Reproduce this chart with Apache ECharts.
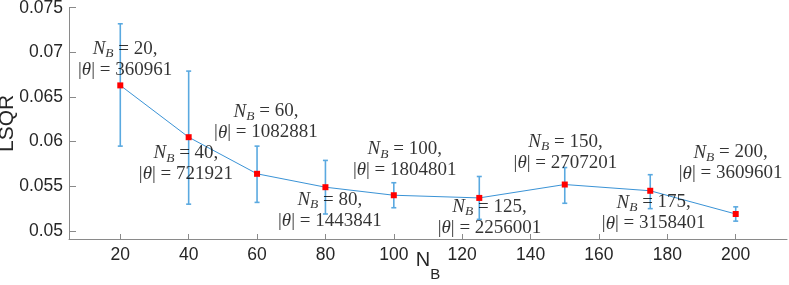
<!DOCTYPE html>
<html>
<head>
<meta charset="utf-8">
<script src="https://cdn.jsdelivr.net/npm/echarts@6/dist/echarts.min.js"></script>
<style>html,body{margin:0;padding:0;background:#fff}#c{width:789px;height:285px}</style>
</head>
<body>
<div id="c"></div>
<script>
// ---- data ----
var nb      = [20, 40, 60, 80, 100, 125, 150, 175, 200];
var lsqr    = [0.0663, 0.0605, 0.0564, 0.0549, 0.0540, 0.0537, 0.0552, 0.0545, 0.0519];
var errLow  = [0.0595, 0.0530, 0.0532, 0.0519, 0.0526, 0.0513, 0.0531, 0.0525, 0.0511];
var errHigh = [0.0732, 0.0679, 0.0595, 0.0579, 0.0554, 0.0561, 0.0571, 0.0563, 0.0527];
var thetaSize = ['360961', '721921', '1082881', '1443841', '1804801', '2256001', '2707201', '3158401', '3609601'];
// annotation anchors (data coordinates, like MATLAB text())
var annotX  = [21.4, 39.2, 62.6, 81.3, 103.2, 128.0, 150.2, 176.0, 198.5];
var annotY  = [0.0692, 0.0575, 0.0622, 0.0523, 0.05795, 0.05156, 0.05884, 0.05201, 0.05761];
var xTicks  = [20, 40, 60, 80, 100, 120, 140, 160, 180, 200];
var yTicks  = [0.05, 0.055, 0.06, 0.065, 0.07, 0.075];
var yTickLabels = ['0.05', '0.055', '0.06', '0.065', '0.07', '0.075'];

var chart = echarts.init(document.getElementById('c'), null, {renderer: 'canvas'});
var axisGray = '#8a8a8a';
var txt = '#262626';
var serif = '"Liberation Serif", "Times New Roman", serif';
var sans = '"Liberation Sans", Arial, sans-serif';

var rich = {
  i:   {fontFamily: serif, fontStyle: 'italic', fontSize: 19, color: '#000', lineHeight: 21},
  sub: {fontFamily: serif, fontStyle: 'italic', fontSize: 13.5, color: '#000', padding: [9, 0, 0, 0], lineHeight: 21},
  r:   {fontFamily: serif, fontSize: 19, color: '#000', lineHeight: 21}
};

var annotData = nb.map(function (n, k) {
  return {
    value: [annotX[k], annotY[k]],
    label: {
      formatter: '{i|N}{sub|B}{r| = ' + n + ',}\n{r||}{i|θ}{r|| = ' + thetaSize[k] + '}'
    }
  };
});

var option = {
  animation: false,
  backgroundColor: '#fff',
  grid: {left: 69, top: 7.7, right: 2, bottom: 46, containLabel: false, outerBoundsMode: 'none'},
  xAxis: {
    type: 'value', min: 5, max: 215,
    name: '{n|N}{s|B}', nameLocation: 'middle', nameGap: 0, nameMoveOverlap: false,
    nameTextStyle: {
      rich: {
        n: {fontFamily: sans, fontSize: 20, color: txt},
        s: {fontFamily: sans, fontSize: 15, color: txt, padding: [28, 0, 0, 0]}
      }
    },
    splitLine: {show: false},
    axisLine: {show: true, onZero: false, lineStyle: {color: axisGray, width: 1}},
    axisTick: {show: true, inside: true, length: 5, customValues: xTicks, lineStyle: {color: axisGray}},
    axisLabel: {show: true, customValues: xTicks, margin: 7, color: txt, fontSize: 17.5, fontFamily: sans}
  },
  yAxis: {
    type: 'value', min: 0.0491, max: 0.075,
    name: 'LSQR', nameLocation: 'middle', nameGap: 51, nameMoveOverlap: false,
    nameTextStyle: {fontFamily: sans, fontSize: 21, color: txt},
    splitLine: {show: false},
    axisLine: {show: true, onZero: false, lineStyle: {color: axisGray, width: 1}},
    axisTick: {show: true, inside: true, length: 7, customValues: yTicks, lineStyle: {color: axisGray}},
    axisLabel: {show: true, customValues: yTicks, margin: 6, color: txt, fontSize: 17.5, fontFamily: sans,
      formatter: function (v) {
        for (var k = 0; k < yTicks.length; k++) if (Math.abs(yTicks[k] - v) < 1e-9) return yTickLabels[k];
        return '';
      }}
  },
  series: [
    {
      type: 'custom',
      z: 2,
      data: nb.map(function (n, k) { return [n, errLow[k], errHigh[k]]; }),
      renderItem: function (params, api) {
        var lo = api.coord([api.value(0), api.value(1)]);
        var hi = api.coord([api.value(0), api.value(2)]);
        var hw = 2.5;
        var st = {stroke: '#5aa9e0', lineWidth: 1.6};
        return {
          type: 'group',
          children: [
            {type: 'line', shape: {x1: lo[0], y1: lo[1], x2: hi[0], y2: hi[1]}, style: st},
            {type: 'line', shape: {x1: lo[0] - hw, y1: lo[1], x2: lo[0] + hw, y2: lo[1]}, style: st},
            {type: 'line', shape: {x1: hi[0] - hw, y1: hi[1], x2: hi[0] + hw, y2: hi[1]}, style: st}
          ]
        };
      }
    },
    {
      type: 'line',
      z: 3,
      data: nb.map(function (n, k) { return [n, lsqr[k]]; }),
      symbol: 'rect', symbolSize: 6,
      itemStyle: {color: '#ff0000', borderWidth: 0},
      lineStyle: {color: '#3a93d6', width: 1},
      showAllSymbol: true
    },
    {
      type: 'scatter',
      z: 4,
      symbolSize: 0,
      silent: true,
      data: annotData,
      label: {show: true, position: 'inside', align: 'center', verticalAlign: 'middle', rich: rich}
    }
  ]
};
chart.setOption(option);
</script>
</body>
</html>
